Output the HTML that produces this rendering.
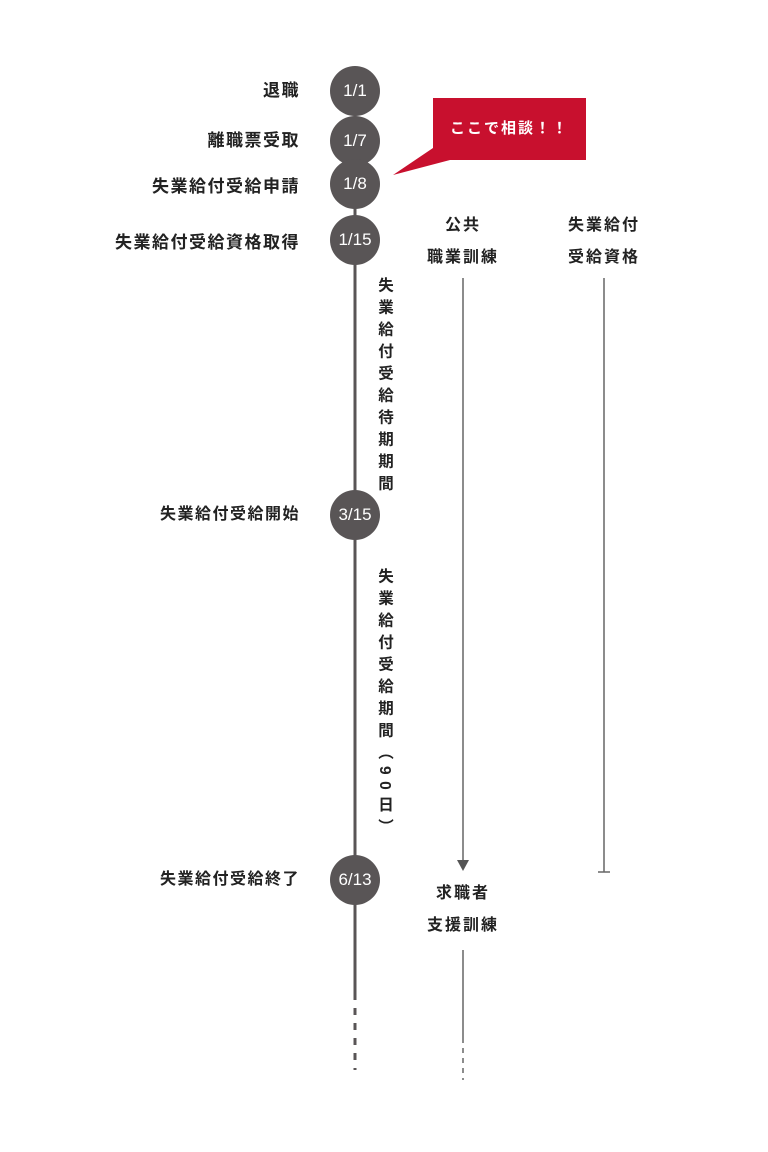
<!DOCTYPE html>
<html><head><meta charset="utf-8"><style>
body{margin:0;width:768px;height:1152px;background:#fff;position:relative;overflow:hidden;font-family:"Liberation Sans","Noto Sans CJK JP",sans-serif;color:#222;}
.c{position:absolute;width:50px;height:50px;border-radius:50%;background:#595556;color:#fff;font-size:17px;line-height:50px;text-align:center;left:330px;}
.l{position:absolute;right:468px;font-size:17px;font-weight:bold;letter-spacing:1.5px;line-height:20px;white-space:nowrap;}
.t{position:absolute;font-size:16px;font-weight:bold;letter-spacing:2px;line-height:32px;text-align:center;white-space:nowrap;}
.v{position:absolute;writing-mode:vertical-rl;font-size:15.5px;font-weight:bold;letter-spacing:6.5px;left:373px;}
</style></head><body>
<svg width="768" height="1152" style="position:absolute;left:0;top:0">
<line x1="355" y1="90" x2="355" y2="1000" stroke="#595556" stroke-width="3"/>
<line x1="355" y1="1008" x2="355" y2="1070" stroke="#595556" stroke-width="3" stroke-dasharray="7,8"/>
<line x1="463" y1="278" x2="463" y2="862" stroke="#666" stroke-width="1.5"/>
<polygon points="457,860 469,860 463,871" fill="#555"/>
<line x1="604" y1="278" x2="604" y2="872" stroke="#666" stroke-width="1.5"/>
<line x1="598" y1="872" x2="610" y2="872" stroke="#666" stroke-width="1.5"/>
<line x1="463" y1="950" x2="463" y2="1043" stroke="#666" stroke-width="1.5"/>
<line x1="463" y1="1048" x2="463" y2="1080" stroke="#666" stroke-width="1.5" stroke-dasharray="5,5"/>
<rect x="433" y="98" width="153" height="62" fill="#c8102e"/>
<polygon points="433,148 393,175 450,160 433,160" fill="#c8102e"/>
</svg>
<div style="position:absolute;left:433px;top:98px;width:153px;height:62px;line-height:62px;text-align:center;color:#fff;font-size:15px;font-weight:bold;letter-spacing:2px;">ここで相談！！</div>
<div class="c" style="top:66px">1/1</div>
<div class="c" style="top:116px">1/7</div>
<div class="c" style="top:159px">1/8</div>
<div class="c" style="top:215px">1/15</div>
<div class="c" style="top:490px">3/15</div>
<div class="c" style="top:855px">6/13</div>
<div class="l" style="top:81px">退職</div>
<div class="l" style="top:131px">離職票受取</div>
<div class="l" style="top:177px">失業給付受給申請</div>
<div class="l" style="top:233px">失業給付受給資格取得</div>
<div class="l" style="top:505px;font-size:16px">失業給付受給開始</div>
<div class="l" style="top:870px;font-size:16px">失業給付受給終了</div>
<div class="t" style="left:413px;width:100px;top:210px">公共<br>職業訓練</div>
<div class="t" style="left:554px;width:100px;top:210px">失業給付<br>受給資格</div>
<div class="t" style="left:413px;width:100px;top:878px">求職者<br>支援訓練</div>
<div class="v" style="top:277px">失業給付受給待期期間</div>
<div class="v" style="top:568px">失業給付受給期間（90日）</div>
</body></html>
